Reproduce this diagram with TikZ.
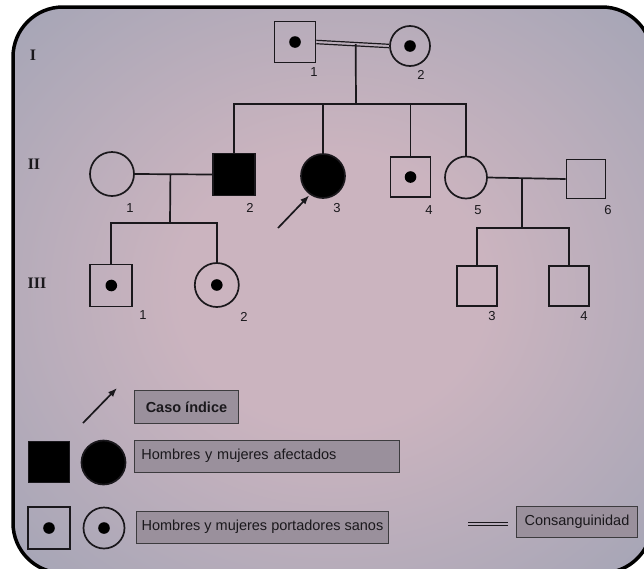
\documentclass[tikz,border=0pt]{standalone}
\usepackage{fontspec}
\setmainfont{Liberation Sans}
\newfontfamily\genfont{Liberation Serif}
\usetikzlibrary{calc, arrows.meta, positioning}
\definecolor{paperIn}{HTML}{CBB4BF}
\definecolor{paperOut}{HTML}{9DA2B4}
\definecolor{boxFill}{HTML}{9A909C}
\definecolor{inkDark}{HTML}{1A181C}
\pgfdeclareradialshading{paperglow}{\pgfpoint{0bp}{0bp}}{%
  color(0bp)=(paperIn); color(12bp)=(paperIn); color(26bp)=(paperIn!50!paperOut);
  color(40bp)=(paperOut); color(50bp)=(paperOut)}

\begin{document}
\begin{tikzpicture}[
            x=1pt, y=-1pt,
            male/.style={rectangle, draw=inkDark, line width=1.7pt, minimum size=41pt, inner sep=0pt},
            female/.style={circle, draw=inkDark, line width=1.7pt, minimum size=43pt, inner sep=0pt},
            affected/.style={fill=black},
            carrier/.style={path picture={\fill[black] (path picture bounding box.center) circle (5.8pt);}},
            num/.style={font=\fontsize{13}{15}\selectfont, text=inkDark, inner sep=0pt},
            gen/.style={font=\genfont\bfseries\fontsize{16}{18}\selectfont, text=inkDark, inner sep=0pt},
            legbox/.style={rectangle, draw=inkDark!85, line width=0.9pt, fill=boxFill, anchor=north west, inner sep=0pt, font=\fontsize{14.5}{17}\selectfont, text=inkDark},
            link/.style={draw=inkDark, line width=1.7pt},
            consang/.style={draw=inkDark, line width=1.2pt},
            idx/.style={draw=inkDark, line width=1.7pt, -{Latex[length=9pt, width=7pt]}}
        ]
            \useasboundingbox (0,0) rectangle (644,568);
            % Frame
            \begin{scope}
                \clip (0,0) rectangle (644,568);
                \fill[white] (0,0) rectangle (644,568);
                \shade[shading=paperglow, rounded corners=50pt] (13,7) rectangle (652,573);
                \draw[line width=3.5pt, rounded corners=50pt] (13,7) rectangle (652,573);
            \end{scope}

            % Generations
            \node[gen] (genI) at (33,55) {I};
            \node[gen] (genII) at (34,164) {II};
            \node[gen] (genIII) at (37,283) {III};

            % Nodes
            \node[male, carrier] (I1) at (295,42) {};
            \node[female, carrier, minimum size=40pt] (I2) at (410,46) {};
            \node[female, minimum size=44pt] (II1) at (112,174) {};
            \node[male, affected, minimum size=42pt] (II2) at (234,174.5) {};
            \node[female, affected, minimum size=44pt] (II3) at (323,176) {};
            \node[male, carrier, minimum size=40pt] (II4) at (410.5,177) {};
            \node[female, minimum size=42pt] (II5) at (466,177.5) {};
            \node[male, minimum size=39pt] (II6) at (586,179) {};
            \node[male, carrier, minimum size=42pt] (III1) at (111.3,285.5) {};
            \node[female, carrier, minimum size=44pt] (III2) at (216.8,285) {};
            \node[male, minimum size=40pt] (III3) at (476.7,286) {};
            \node[male, minimum size=40pt] (III4) at (569.2,286) {};

            % Numbers
            \node[num] (nI1) at (314,72) {1};
            \node[num] (nI2) at (421,75) {2};
            \node[num] (nII1) at (130,208) {1};
            \node[num] (nII2) at (250,208) {2};
            \node[num] (nII3) at (337,208) {3};
            \node[num] (nII4) at (429,210) {4};
            \node[num] (nII5) at (478,210) {5};
            \node[num] (nII6) at (608,210) {6};
            \node[num] (nIII1) at (143,315) {1};
            \node[num] (nIII2) at (244,317) {2};
            \node[num] (nIII3) at (492,316) {3};
            \node[num] (nIII4) at (584,316) {4};

            % Lines
            \draw[consang, transform canvas={yshift=1.7pt}] (I1.east) -- (I2.west);
            \draw[consang, transform canvas={yshift=-1.7pt}] (I1.east) -- (I2.west);
            \coordinate (mI) at ($(I1.east)!0.54!(I2.west)$);
            \coordinate (sibII) at (356,104);
            \draw[link] (mI) -- (sibII);
            \draw[link] (II2.north) -- (II2.north |- sibII) -- (II5.north |- sibII) -- (II5.north);
            \draw[link] (II3.north) -- (II3.north |- sibII);
            \draw[link] (II4.north) -- (II4.north |- sibII);

            \draw[link] (II1.east) -- (II2.west);
            \coordinate (mIIa) at ($(II1.east)!0.46!(II2.west)$);
            \coordinate (sibIIIa) at (170,223);
            \draw[link] (mIIa) -- (sibIIIa);
            \draw[link] (III1.north) -- (III1.north |- sibIIIa) -- (III2.north |- sibIIIa) -- (III2.north);

            \draw[link] (II5.east) -- (II6.west);
            \coordinate (mIIb) at ($(II5.east)!0.44!(II6.west)$);
            \coordinate (sibIIIb) at (522,228);
            \draw[link] (mIIb) -- (sibIIIb);
            \draw[link] (III3.north) -- (III3.north |- sibIIIb) -- (III4.north |- sibIIIb) -- (III4.north);

            \coordinate (idxTail) at (278,228);
            \draw[idx, shorten >=1pt] (idxTail) -- (II3.235);

            % Legend
            \coordinate (legTail) at (83,423);
            \coordinate (legTip) at (117,388);
            \draw[idx] (legTail) -- (legTip);
            \node[legbox, minimum width=104pt, minimum height=33pt, font=\bfseries\fontsize{14.5}{17}\selectfont] (boxIdx) at (134,390) {Caso índice};

            \node[male, affected] (legM) at (49,462) {};
            \node[female, affected, minimum size=44pt] (legF) at (103.5,462.5) {};
            \node[legbox, text width=251pt, inner xsep=7pt, minimum height=31.5pt, align=left] (boxAff) at (134,440) {Hombres y mujeres afectados};

            \node[male, carrier, minimum size=42pt] (legMc) at (49,528) {};
            \node[female, carrier, minimum size=41pt] (legFc) at (104,528) {};
            \node[legbox, minimum width=252pt, minimum height=31.5pt] (boxCar) at (136,511) {Hombres y mujeres portadores sanos};

            \coordinate (legC1) at (468,524);
            \coordinate (legC2) at (508,524);
            \draw[consang, transform canvas={yshift=1.8pt}] (legC1) -- (legC2);
            \draw[consang, transform canvas={yshift=-1.8pt}] (legC1) -- (legC2);
            \node[legbox, minimum width=121pt, minimum height=31pt] (boxCon) at (516,506) {Consanguinidad};
        \end{tikzpicture}
\end{document}
